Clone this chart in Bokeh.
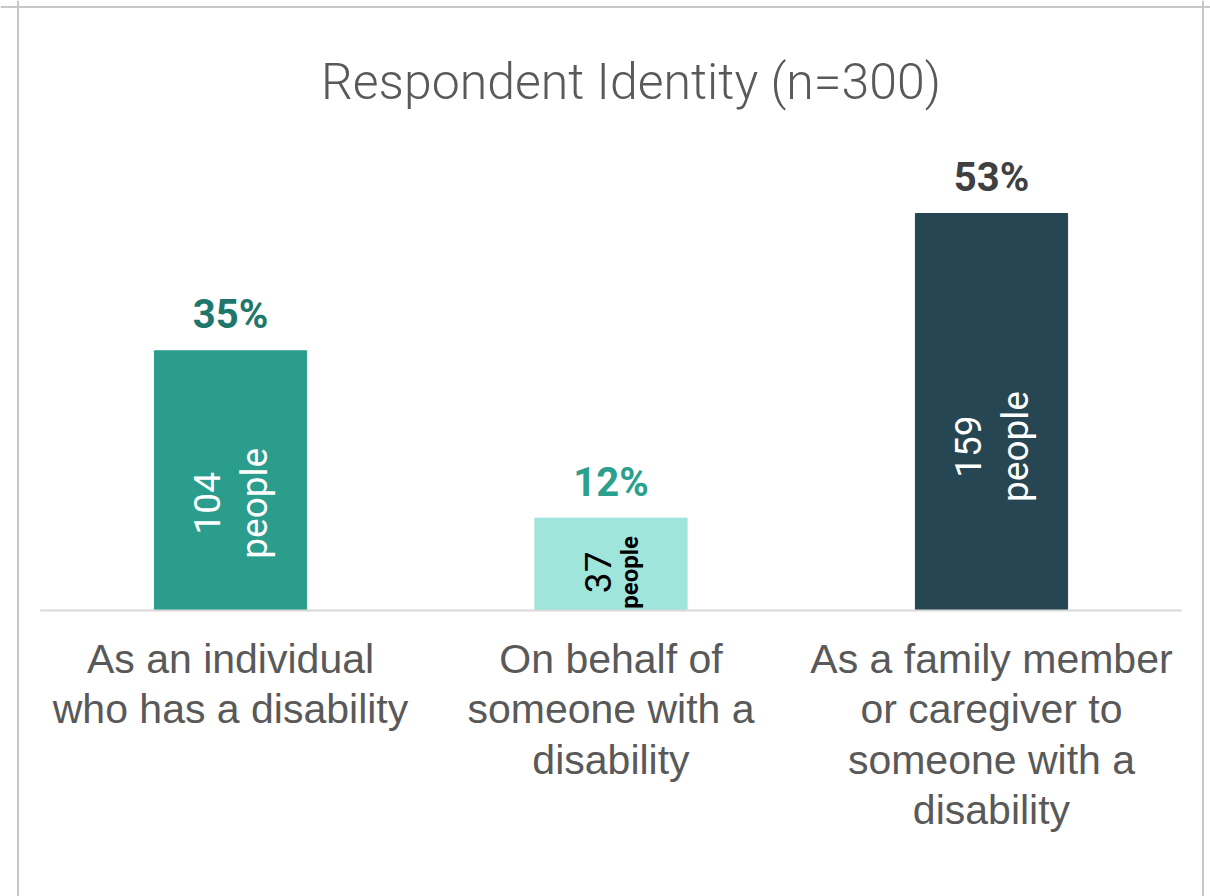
import numpy as np
from bokeh.plotting import figure
from bokeh.models import Range1d, Span, ColumnDataSource
from bokeh.core.properties import value
from bokeh.embed import file_html
from bokeh.resources import INLINE

# ---- data ----
title_text = "Respondent Identity (n=300)"
total = 300
categories = [
    "As an individual\nwho has a disability",
    "On behalf of\nsomeone with a\ndisability",
    "As a family member\nor caregiver to\nsomeone with a\ndisability",
]
counts = [104, 37, 159]
bar_colors = ["#2a9d8c", "#a0e5dc", "#264653"]
pct_colors = ["#1f776b", "#2aa08d", "#404040"]
count_colors = ["#ffffff", "#000000", "#ffffff"]

W, H = 1210, 896
S = 380.5          # px per category
P = 397 / 53.0     # px per percent
x0_px, base_px = 230, 610

xs = np.arange(len(categories), dtype=float)
pcts = [c / total * 100 for c in counts]
pct_labels = [f"{round(v)}%" for v in pcts]

p = figure(width=W, height=H, output_backend="svg", toolbar_location=None,
           x_range=Range1d(-x0_px / S, (W - x0_px) / S),
           y_range=Range1d(-(H - base_px) / P, base_px / P),
           x_axis_location=None, y_axis_location=None,
           min_border=0, outline_line_color=None)
p.grid.visible = False
p.background_fill_color = "white"
p.border_fill_color = "white"

# frame border (left, right, top)
xr, yr = p.x_range, p.y_range
for loc in (xr.start + 17.5 / S, xr.start + 1202.5 / S):
    p.add_layout(Span(location=loc, dimension="height", line_color="#c8c8c8", line_width=2))
p.add_layout(Span(location=yr.end - 6.5 / P, dimension="width", line_color="#c8c8c8", line_width=2))

# bars
src = ColumnDataSource(dict(x=xs, top=pcts, color=bar_colors, pct=pct_labels, pcol=pct_colors,
                            cat=categories, num=[str(c) for c in counts], ncol=count_colors,
                            ly=[v * 0.413 for v in pcts]))
p.vbar(x="x", top="top", bottom=0, width=0.4, color="color", source=src)

# baseline axis line
p.segment(x0=[xs[0] - 0.5], x1=[xs[-1] + 0.5], y0=[0], y1=[0], line_color="#d9d9d9", line_width=2)

# percentage labels
p.text(x="x", y="top", text="pct", text_color="pcol", source=src,
       text_font=value("Roboto"), text_font_style="bold", text_font_size="40px",
       text_align="center", text_baseline="alphabetic", y_offset=-36)

# category labels
p.text(x="x", y=0, text="cat", source=src, text_color="#595959",
       text_font=value("Liberation Sans"), text_font_size="41px",
       text_align="center", text_baseline="top", text_line_height=1.1, y_offset=25)

# in-bar labels: big bars
big = [0, 2]
src_big = ColumnDataSource(dict(x=xs[big], y=[src.data["ly"][i] for i in big],
                                num=[str(counts[i]) for i in big]))
p.text(x="x", y="y", text="num", source=src_big, angle=np.pi / 2, x_offset=-24,
       text_color="white", text_font=value("Roboto"), text_font_size="37px",
       text_align="center", text_baseline="middle")
p.text(x="x", y="y", text=value("people"), source=src_big, angle=np.pi / 2, x_offset=24,
       text_color="white", text_font=value("Roboto"), text_font_size="37px",
       text_align="center", text_baseline="middle")

# small bar
small = [1]
src_small = ColumnDataSource(dict(x=xs[small], y=[src.data["ly"][i] for i in small],
                                  num=[str(counts[i]) for i in small]))
p.text(x="x", y="y", text="num", source=src_small, angle=np.pi / 2, x_offset=-13,
       text_color="black", text_font=value("Roboto"), text_font_size="37px",
       text_align="center", text_baseline="middle")
p.text(x="x", y="y", text=value("people"), source=src_small, angle=np.pi / 2, x_offset=19,
       text_color="black", text_font=value("Roboto"), text_font_style="bold", text_font_size="24px",
       text_align="center", text_baseline="middle")

# title
p.text(x=[xs.mean()], y=[yr.end], text=[title_text], x_offset=20, y_offset=81,
       text_color="#595959", text_font=value("Roboto Light"), text_font_size="50px",
       text_align="center", text_baseline="alphabetic")

open("out.html", "w").write(file_html(p, INLINE))
